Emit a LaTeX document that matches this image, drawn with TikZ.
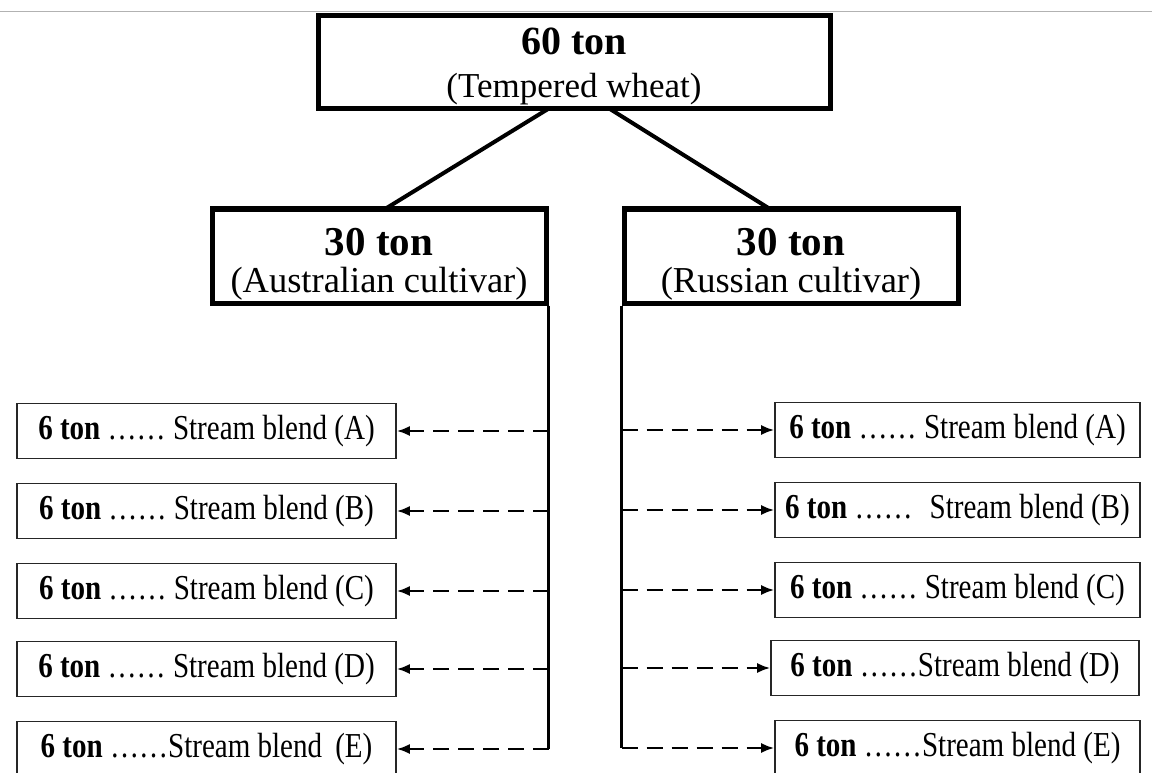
\documentclass[tikz,border=0pt]{standalone}
\usepackage{fontspec}
\setmainfont{Liberation Serif}
\newfontfamily\narrowserif[FakeStretch=0.83]{Liberation Serif}
\usetikzlibrary{arrows.meta}

\begin{document}
\begin{tikzpicture}[x=1pt,y=-1pt,
	mainbox/.style={draw, line width=5pt, inner sep=0pt},
	maintext/.style={inner sep=0pt, align=center},
	blendbox/.style={draw=black!85, line width=1.6pt, inner sep=0pt, minimum height=55pt, font=\narrowserif\fontsize{35}{38}\selectfont},
	branch/.style={line width=4pt},
	trunk/.style={line width=3pt},
	feed/.style={line width=2.2pt, dash pattern=on 16pt off 9pt, -{Latex[length=13pt,width=10pt]}}]
					\useasboundingbox (0,0) rectangle (1152,773);
					\draw[black!30, line width=1pt] (0,12) -- (1152,12);
					% top level
					\node[mainbox, minimum width=512pt, minimum height=93pt] (top) at (574,62) {};
					\node[maintext, font=\fontsize{35}{43}\selectfont] (toptext) at (574,66) {{\fontsize{40}{44}\selectfont\bfseries 60 ton}\\(Tempered wheat)};
					\node[mainbox, minimum width=334pt, minimum height=94pt] (aus) at (379,256) {};
					\node[maintext, font=\fontsize{36.5}{37}\selectfont] (austext) at (379,264) {{\fontsize{41}{44}\selectfont\bfseries 30 ton}\\(Australian cultivar)};
					\node[mainbox, minimum width=334pt, minimum height=94pt] (rus) at (791,256) {};
					\node[maintext, font=\fontsize{36.5}{37}\selectfont] (rustext) at (791,264) {{\fontsize{41}{44}\selectfont\bfseries 30 ton}\\(Russian cultivar)};
					\coordinate (tl) at (548,109);
					\coordinate (tr) at (610,109);
					\coordinate (al) at (385,209);
					\coordinate (rr) at (770,209);
					\draw[branch] (tl) -- (al);
					\draw[branch] (tr) -- (rr);
					% Australian streams
					\node[blendbox, minimum width=379pt] (ausA) at (206.5,431) {\textbf{6 ton} …… Stream blend (A)};
					\node[blendbox, minimum width=379pt] (ausB) at (206.5,511) {\textbf{6 ton} …… Stream blend (B)};
					\node[blendbox, minimum width=379pt] (ausC) at (206.5,591) {\textbf{6 ton} …… Stream blend (C)};
					\node[blendbox, minimum width=379pt] (ausD) at (206.5,669) {\textbf{6 ton} …… Stream blend (D)};
					\node[blendbox, minimum width=379pt] (ausE) at (206.5,749) {\textbf{6 ton} ……Stream blend\, (E)};
					% Russian streams
					\node[blendbox, minimum width=365pt] (rusA) at (957.5,430) {\textbf{6 ton} …… Stream blend (A)};
					\node[blendbox, minimum width=365pt] (rusB) at (957.5,510) {\textbf{6 ton} ……\; Stream blend (B)};
					\node[blendbox, minimum width=365pt] (rusC) at (957.5,590) {\textbf{6 ton} …… Stream blend (C)};
					\node[blendbox, minimum width=368pt] (rusD) at (955,668) {\textbf{6 ton} ……Stream blend (D)};
					\node[blendbox, minimum width=365pt] (rusE) at (957.5,748) {\textbf{6 ton} ……Stream blend (E)};
					\draw[trunk] (aus.south east) -- (aus.south east |- ausE.east);
					\draw[trunk] (rus.south west) -- (rus.south west |- rusE.west);
					\draw[feed] (aus.south east |- ausA.east) -- (ausA.east);
					\draw[feed] (aus.south east |- ausB.east) -- (ausB.east);
					\draw[feed] (aus.south east |- ausC.east) -- (ausC.east);
					\draw[feed] (aus.south east |- ausD.east) -- (ausD.east);
					\draw[feed] (aus.south east |- ausE.east) -- (ausE.east);
					\draw[feed] (rus.south west |- rusA.west) -- (rusA.west);
					\draw[feed] (rus.south west |- rusB.west) -- (rusB.west);
					\draw[feed] (rus.south west |- rusC.west) -- (rusC.west);
					\draw[feed] (rus.south west |- rusD.west) -- (rusD.west);
					\draw[feed] (rus.south west |- rusE.west) -- (rusE.west);
				\end{tikzpicture}
\end{document}
